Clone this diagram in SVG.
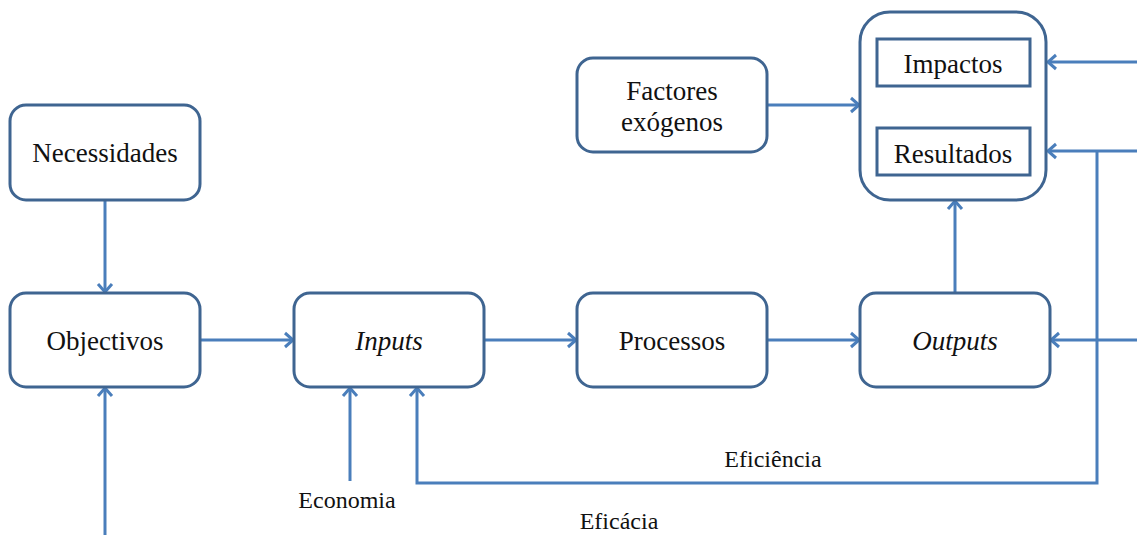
<svg xmlns="http://www.w3.org/2000/svg" width="1137" height="535" viewBox="0 0 1137 535">
<style>
.box{fill:#fff;stroke:#3f6591;stroke-width:3}
.in{fill:#fff;stroke:#3f6591;stroke-width:3}
.t{font-family:'Liberation Serif','Times New Roman',serif;font-size:27px;fill:#111;text-anchor:middle}
.l{font-family:'Liberation Serif','Times New Roman',serif;font-size:24px;fill:#111;text-anchor:middle}
.i{font-style:italic}
.c{fill:none;stroke:#4a7ebb;stroke-width:3}
</style>
<defs>
<marker id="a" markerUnits="userSpaceOnUse" viewBox="0 0 20 20" refX="14" refY="10" markerWidth="20" markerHeight="20" orient="auto">
<path d="M6,3 L14,10 L6,17" fill="none" stroke="#4a7ebb" stroke-width="3"/>
</marker>
</defs>
<rect width="1137" height="535" fill="#fff"/>
<g id="connectors">
<path class="c" d="M105,200 V292" marker-end="url(#a)"/>
<path class="c" d="M200,340 H293" marker-end="url(#a)"/>
<path class="c" d="M484,340 H576" marker-end="url(#a)"/>
<path class="c" d="M767,340 H859" marker-end="url(#a)"/>
<path class="c" d="M955,293 V201" marker-end="url(#a)"/>
<path class="c" d="M767,105 H859" marker-end="url(#a)"/>
<path class="c" d="M1137,62 H1048" marker-end="url(#a)"/>
<path class="c" d="M1137,151 H1048" marker-end="url(#a)"/>
<path class="c" d="M1137,340 H1051" marker-end="url(#a)"/>
<path class="c" d="M1097,151 V483 H417 V388" marker-end="url(#a)"/>
<path class="c" d="M350,481 V388" marker-end="url(#a)"/>
<path class="c" d="M105,535 V388" marker-end="url(#a)"/>
</g>
<g id="necessidades"><rect class="box" x="10" y="105" width="190" height="95" rx="16"/><text class="t" x="105" y="162">Necessidades</text></g>
<g id="objectivos"><rect class="box" x="10" y="293" width="190" height="94" rx="16"/><text class="t" x="105" y="350">Objectivos</text></g>
<g id="inputs"><rect class="box" x="294" y="293" width="190" height="94" rx="16"/><text class="t i" x="389" y="350">Inputs</text></g>
<g id="processos"><rect class="box" x="577" y="293" width="190" height="94" rx="16"/><text class="t" x="672" y="350">Processos</text></g>
<g id="outputs"><rect class="box" x="860" y="293" width="190" height="94" rx="16"/><text class="t i" x="955" y="350">Outputs</text></g>
<g id="factores"><rect class="box" x="577" y="58" width="190" height="94" rx="16"/><text class="t" x="672" y="100">Factores</text><text class="t" x="672" y="131">exógenos</text></g>
<g id="resultados-grupo"><rect class="box" x="860" y="12" width="186" height="188" rx="30"/>
<g id="impactos"><rect class="in" x="877" y="39" width="153" height="47"/><text class="t" x="953" y="73">Impactos</text></g>
<g id="resultados"><rect class="in" x="877" y="128" width="153" height="47"/><text class="t" x="953" y="163">Resultados</text></g>
</g>
<text class="l" x="773" y="467">Eficiência</text>
<text class="l" x="347" y="508">Economia</text>
<text class="l" x="619" y="529">Eficácia</text>
</svg>
